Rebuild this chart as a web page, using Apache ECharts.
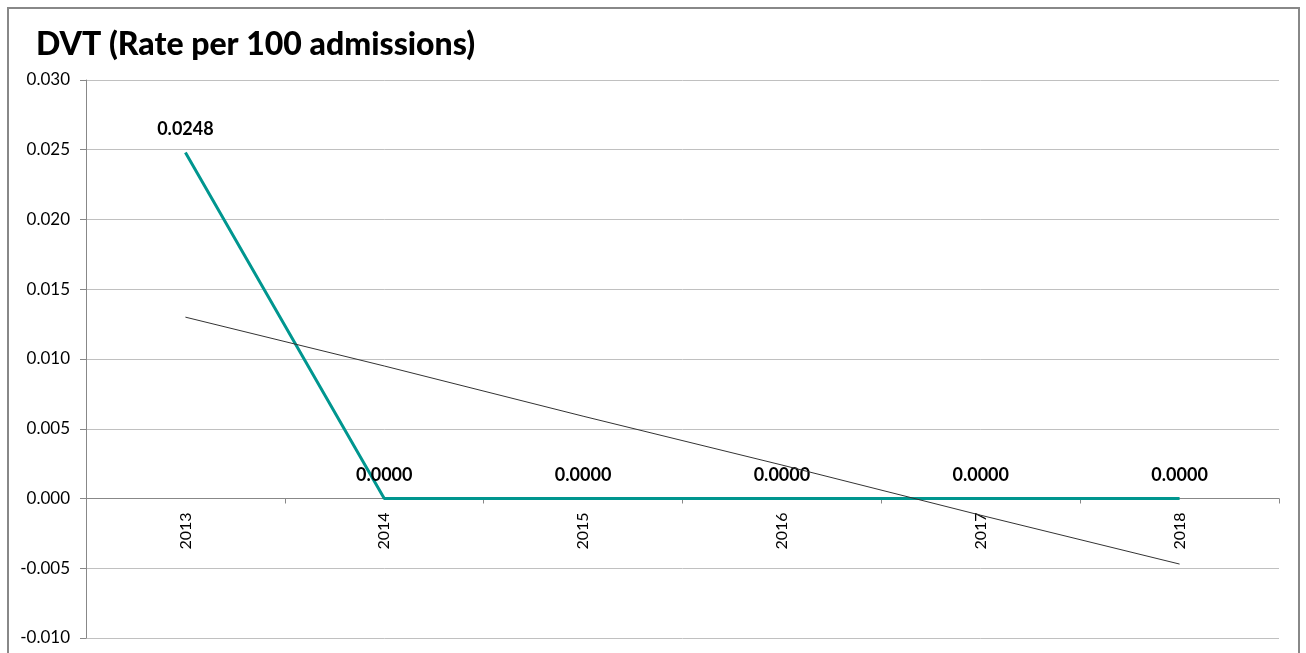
<!DOCTYPE html>
<html>
<head>
<meta charset="utf-8">
<script src="https://cdn.jsdelivr.net/npm/echarts@6/dist/echarts.min.js"></script>
<style>
html,body{margin:0;padding:0;background:#fff;}
#chart{width:1306px;height:653px;}
</style>
</head>
<body>
<div id="chart"></div>
<script>
const titleText = 'DVT (Rate per 100 admissions)';
const categories = ['2013', '2014', '2015', '2016', '2017', '2018'];
const rateValues = [0.0248, 0.0000, 0.0000, 0.0000, 0.0000, 0.0000];
const trendValues = [0.0130, 0.0095, 0.0059, 0.0024, -0.0012, -0.0047];
const yTicks = [-0.010, -0.005, 0.000, 0.005, 0.010, 0.015, 0.020, 0.025, 0.030];

const chart = echarts.init(document.getElementById('chart'), null, {renderer: 'canvas'});
const font = 'Lato, "Open Sans", sans-serif';

// the category axis sits on the zero line of the value axis
const gridTop = 80, gridBottom = 15, chartH = 653;
const plotH = chartH - gridTop - gridBottom;
const yMin = yTicks[0], yMax = yTicks[yTicks.length - 1];
const zeroOffset = -plotH * (0 - yMin) / (yMax - yMin);

chart.setOption({
  animation: false,
  backgroundColor: '#fff',
  title: {
    text: titleText,
    left: 31, top: 24,
    textStyle: {fontFamily: font, fontWeight: 900, fontSize: 32, color: '#000'}
  },
  graphic: [{
    type: 'rect',
    shape: {x: 8, y: 8, width: 1291, height: 700},
    style: {fill: 'none', stroke: '#888', lineWidth: 2},
    silent: true, z: 100
  }],
  grid: {left: 86, right: 27, top: gridTop, bottom: gridBottom, containLabel: false, outerBoundsMode: 'none'},
  xAxis: {
    type: 'category',
    data: categories,
    boundaryGap: true,
    offset: zeroOffset,
    axisLine: {onZero: false, lineStyle: {color: '#888', width: 1}},
    axisTick: {show: true, length: 5, alignWithLabel: false, lineStyle: {color: '#888'}},
    axisLabel: {rotate: 90, margin: 14, fontFamily: font, fontSize: 16, color: '#000'},
    splitLine: {show: false}
  },
  yAxis: {
    type: 'value',
    min: yMin, max: yMax, interval: 0.005,
    axisLine: {show: true, lineStyle: {color: '#888'}},
    axisTick: {show: true, length: 6, lineStyle: {color: '#888'}},
    axisLabel: {
      margin: 16, fontFamily: font, fontSize: 17, color: '#000',
      formatter: v => v.toFixed(3)
    },
    splitLine: {show: true, lineStyle: {color: '#c0c0c0', width: 1}}
  },
  series: [
    {
      name: 'Rate',
      type: 'line',
      data: rateValues,
      symbol: 'circle',
      symbolSize: 1,
      showSymbol: true,
      itemStyle: {color: 'rgba(0,0,0,0)'},
      lineStyle: {color: '#00968f', width: 3},
      label: {
        show: true, position: 'top', distance: 14,
        fontFamily: font, fontWeight: 'bold', fontSize: 18, color: '#000',
        formatter: p => p.value.toFixed(4)
      },
      labelLayout: {hideOverlap: false},
      z: 3
    },
    {
      name: 'Trend',
      type: 'line',
      data: trendValues,
      symbol: 'none',
      lineStyle: {color: '#333', width: 1},
      z: 4
    }
  ]
});
</script>
</body>
</html>
